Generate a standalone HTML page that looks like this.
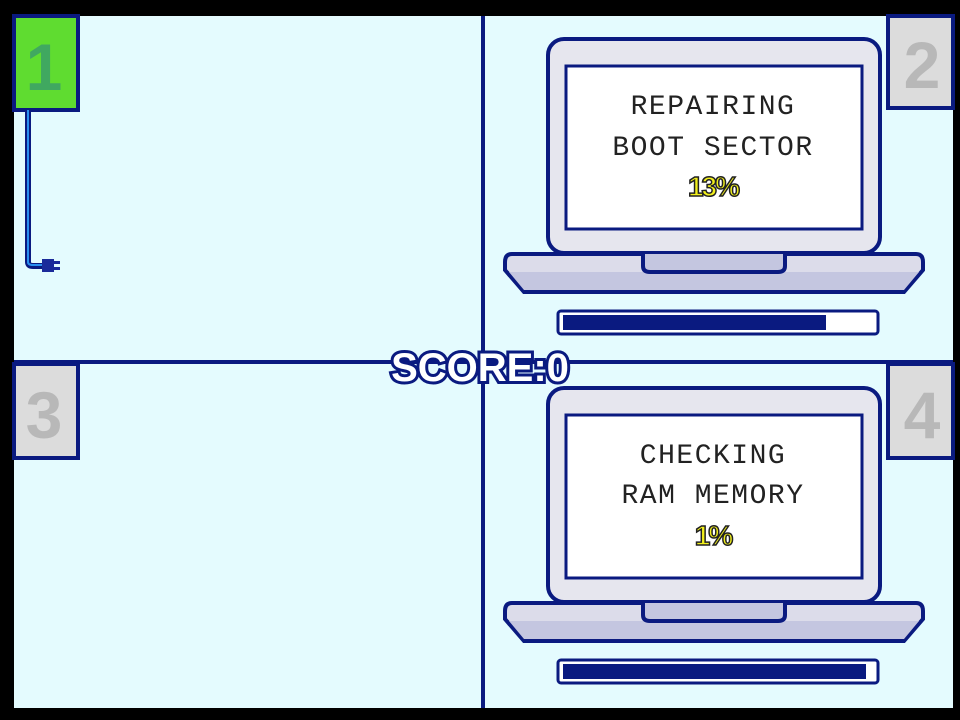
<!DOCTYPE html>
<html><head><style>
html,body{margin:0;padding:0;background:#000;}
svg{display:block;}
.t{font-family:"Liberation Mono",monospace;font-size:28px;fill:#222;text-anchor:middle;letter-spacing:1.5px;}
.p{font-family:"Liberation Sans",sans-serif;font-weight:bold;font-size:28px;fill:#f2f01c;stroke:#222;stroke-width:1.5;text-anchor:middle;letter-spacing:-2px;}
.n{font-family:"Liberation Sans",sans-serif;font-weight:bold;font-size:66px;text-anchor:middle;}
</style></head><body>
<svg width="960" height="720" viewBox="0 0 960 720">
<rect x="0" y="0" width="960" height="720" fill="#000"/>
<rect x="14" y="16" width="939" height="692" fill="#e4fbfe"/>
<line x1="483" y1="16" x2="483" y2="708" stroke="#0a1a80" stroke-width="4"/>
<line x1="14" y1="362" x2="953" y2="362" stroke="#0a1a80" stroke-width="4"/>

<rect x="14" y="16" width="64" height="94" fill="#5fdc30" stroke="#0a1a80" stroke-width="4"/>
<text x="44" y="90" class="n" fill="#40a860">1</text>
<rect x="888" y="16" width="65" height="92" fill="#dcdcdc" stroke="#0a1a80" stroke-width="4"/>
<text x="922" y="88" class="n" fill="#b8b8b8">2</text>
<rect x="14" y="364" width="64" height="94" fill="#dcdcdc" stroke="#0a1a80" stroke-width="4"/>
<text x="44" y="438" class="n" fill="#b8b8b8">3</text>
<rect x="888" y="364" width="65" height="94" fill="#dcdcdc" stroke="#0a1a80" stroke-width="4"/>
<text x="922" y="438" class="n" fill="#b8b8b8">4</text>

<path d="M28 110 V262 Q28 266 33 266 H44" fill="none" stroke="#0a1a80" stroke-width="6"/>
<path d="M28 110 V262 Q28 265 33 265 H44" fill="none" stroke="#2a8ff0" stroke-width="2"/>
<rect x="42" y="259" width="12" height="13" fill="#1a2a9a"/>
<rect x="54" y="261" width="6" height="3" fill="#1a2a9a"/>
<rect x="54" y="267" width="6" height="3" fill="#1a2a9a"/>

<g id="lap">
<rect x="548" y="39" width="332" height="214" rx="16" fill="#e6e6ee" stroke="#0a1a80" stroke-width="4"/>
<rect x="566" y="66" width="296" height="163" fill="#fff" stroke="#0a1a80" stroke-width="3"/>
<path d="M512 254 H916 Q923 254 923 262 V270 L904 292 H524 L505 270 V262 Q505 254 512 254 Z" fill="#dcdcea" stroke="#0a1a80" stroke-width="4"/>
<path d="M509 272 H919 L904 290 H524 Z" fill="#c4c6e0"/>
<path d="M643 254 V266 Q643 272 650 272 H778 Q785 272 785 266 V254" fill="#c4c6e0" stroke="#0a1a80" stroke-width="4"/>
<rect x="558" y="311" width="320" height="23" rx="3" fill="#fff" stroke="#0a1a80" stroke-width="3"/>
</g>
<rect x="563" y="315" width="263" height="15" fill="#0a1a80"/>
<text x="713" y="114" class="t">REPAIRING</text>
<text x="713" y="155" class="t">BOOT SECTOR</text>
<text x="713" y="196" class="p">13%</text>

<use href="#lap" transform="translate(0,349)"/>
<rect x="563" y="664" width="303" height="15" fill="#0a1a80"/>
<text x="713" y="463" class="t">CHECKING</text>
<text x="713" y="503" class="t">RAM MEMORY</text>
<text x="713" y="545" class="p">1%</text>

<text x="480" y="381" font-family="Liberation Sans,sans-serif" font-weight="bold" font-size="40" text-anchor="middle" fill="#fff" stroke="#0a1a80" stroke-width="6" paint-order="stroke">SCORE:0</text>
</svg>
</body></html>
